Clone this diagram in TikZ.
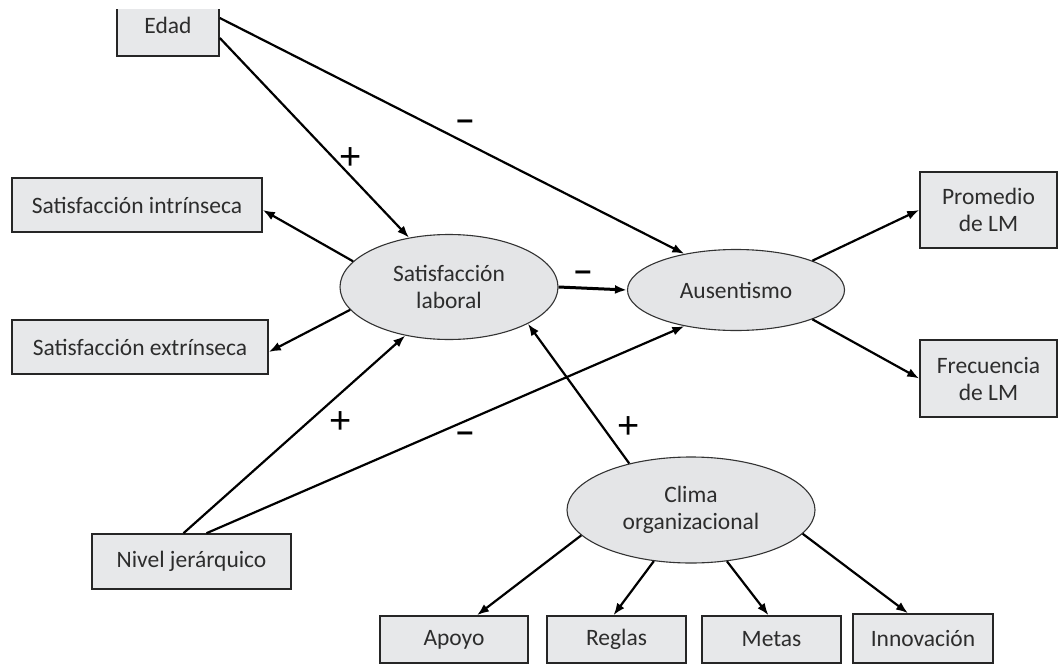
\documentclass[tikz,border=0pt]{standalone}
\usepackage{fontspec}
\setmainfont{Carlito}
\newfontfamily\signfont{Liberation Sans}
\usetikzlibrary{shapes.geometric,arrows.meta}
\definecolor{boxfill}{RGB}{231,232,234}
\definecolor{ellfill}{RGB}{228,229,231}
\definecolor{txt}{RGB}{45,45,45}
\tikzset{
  box/.style={draw=black!85, line width=1.6pt, fill=boxfill, inner sep=0pt, text=txt,
    font=\fontsize{23.5}{27}\selectfont, align=center},
  ell/.style={ellipse, draw=black!80, line width=1.1pt, fill=ellfill, inner sep=0pt, text=txt,
    font=\fontsize{23.5}{27}\selectfont, align=center},
  arr/.style={line width=2.2pt, -{Latex[length=12pt,width=9pt]}},
  plus/.style={font=\signfont\fontsize{38}{38}\selectfont, inner sep=0pt},
  minus/.style={font=\signfont\bfseries\fontsize{30}{30}\selectfont, inner sep=0pt}
}
\begin{document}
\begin{tikzpicture}[x=1pt,y=-1pt]
\useasboundingbox[fill=white] (0,0) rectangle (1059,666);
\clip (0,10) rectangle (1059,666);
% boxes
\node[box, minimum width=102pt, minimum height=62pt] (edad) at (168,25) {Edad};
\node[box, minimum width=250pt, minimum height=54pt] (si) at (137,205) {Satisfacción intrínseca};
\node[box, minimum width=256pt, minimum height=54pt] (se) at (140,347) {Satisfacción extrínseca};
\node[box, minimum width=137pt, minimum height=76pt] (prom) at (988.5,210) {Promedio\\de LM};
\node[box, minimum width=137pt, minimum height=77pt] (frec) at (988.5,378.5) {Frecuencia\\de LM};
\node[box, minimum width=199pt, minimum height=55pt] (nivel) at (191.5,561.5) {Nivel jerárquico};
\node[box, minimum width=148pt, minimum height=47pt] (apoyo) at (454,639.5) {Apoyo};
\node[box, minimum width=139pt, minimum height=47pt] (reglas) at (616.5,639.5) {Reglas};
\node[box, minimum width=139pt, minimum height=47pt] (metas) at (771.5,639.5) {Metas};
\node[box, minimum width=140pt, minimum height=49pt] (innov) at (923,638.5) {Innovación};
% ellipses
\node[ell, minimum width=218pt, minimum height=105pt] (sl) at (449,287) {Satisfacción\\laboral};
\node[ell, minimum width=217pt, minimum height=81pt] (aus) at (736,290) {Ausentismo};
\node[ell, minimum width=248pt, minimum height=106pt] (clima) at (691,510) {Clima\\organizacional};
% connectors
\draw[arr] ([yshift=-13pt]edad.east) -- (sl.129);
\draw[arr] ([yshift=7pt]edad.east) -- (aus.145);
\draw[arr] (sl.165) -- ([yshift=-5pt]si.east);
\draw[arr] (sl.193) -- ([yshift=-5pt]se.east);
\draw[arr, line width=3pt] (sl.0) -- (aus.180);
\draw[arr] ([xshift=-8pt]nivel.north) -- (sl.228);
\draw[arr] ([xshift=15pt]nivel.north) -- (aus.215);
\draw[arr] (clima.143) -- (sl.335);
\draw[arr] (aus.21) -- (prom.west);
\draw[arr] (aus.-21) -- (frec.west);
\draw[arr] (clima.193) -- ([xshift=23pt]apoyo.north);
\draw[arr] (clima.234) -- ([xshift=-3pt]reglas.north);
\draw[arr] (clima.305) -- ([xshift=-3pt]metas.north);
\draw[arr] (clima.348) -- ([xshift=-15pt]innov.north);
% signs
\node[plus] (p1) at (351,159) {+};
\node[minus] (m1) at (465,125) {–};
\node[minus] (m2) at (583,276) {–};
\node[plus] (p2) at (341,423) {+};
\node[minus] (m3) at (465,437) {–};
\node[plus] (p3) at (629,428) {+};
\end{tikzpicture}
\end{document}
